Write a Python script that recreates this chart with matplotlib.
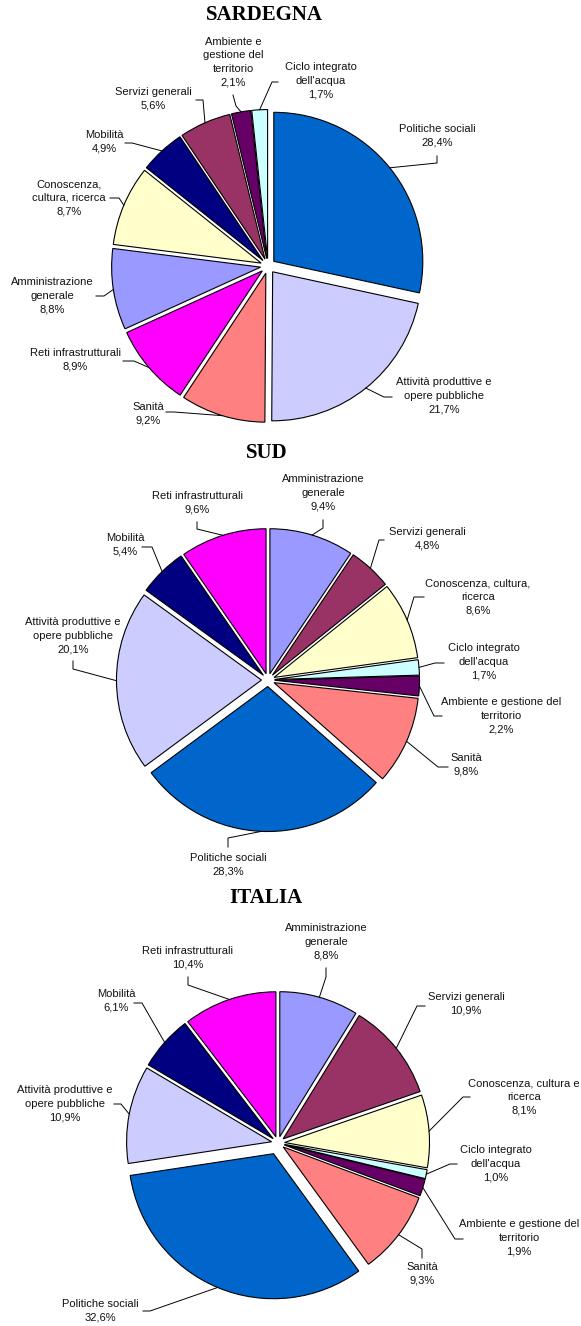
import matplotlib
matplotlib.use("Agg")
import matplotlib.pyplot as plt
import numpy as np

W, H = 581, 1326

# ── data ───────────────────────────────────────────────────────────────────────
SAR_LABELS = ["Politiche sociali", "Attività produttive e\nopere pubbliche", "Sanità",
              "Reti infrastrutturali", "Amministrazione\ngenerale", "Conoscenza,\ncultura, ricerca",
              "Mobilità", "Servizi generali", "Ambiente e\ngestione del\nterritorio",
              "Ciclo integrato\ndell'acqua"]
SAR_VALUES = [28.4, 21.7, 9.2, 8.9, 8.8, 8.7, 4.9, 5.6, 2.1, 1.7]

SUD_LABELS = ["Amministrazione\ngenerale", "Servizi generali", "Conoscenza, cultura,\nricerca",
              "Ciclo integrato\ndell'acqua", "Ambiente e gestione del\nterritorio", "Sanità",
              "Politiche sociali", "Attività produttive e\nopere pubbliche", "Mobilità",
              "Reti infrastrutturali"]
SUD_VALUES = [9.4, 4.8, 8.6, 1.7, 2.2, 9.8, 28.3, 20.1, 5.4, 9.6]

ITA_LABELS = ["Amministrazione\ngenerale", "Servizi generali", "Conoscenza, cultura e\nricerca",
              "Ciclo integrato\ndell'acqua", "Ambiente e gestione del\nterritorio", "Sanità",
              "Politiche sociali", "Attività produttive e\nopere pubbliche", "Mobilità",
              "Reti infrastrutturali"]
ITA_VALUES = [8.8, 10.9, 8.1, 1.0, 1.9, 9.3, 32.6, 10.9, 6.1, 10.4]

# ── palette (Excel classic) ────────────────────────────────────────────────────
COLORS = {
    "Politiche":       "#0066CC",
    "Attività":        "#CCCCFF",
    "Sanità":          "#FF8080",
    "Reti":            "#FF00FF",
    "Amministrazione": "#9999FF",
    "Conoscenza":      "#FFFFCC",
    "Mobilità":        "#000080",
    "Servizi":         "#993366",
    "Ambiente":        "#660066",
    "Ciclo":           "#CCFFFF",
}

# ── layout (pixel coords, y from top) ──────────────────────────────────────────
# per label: text centre, then two leader points (label side -> elbow)
SAR_LAYOUT = dict(
    title=("SARDEGNA", 264, 15), center=(268, 266), radius=149, explode=0.05, big=None,
    labels=[(437, 136, [(437, 156), (437, 163)]),
            (444, 396, [(392, 397), (384, 397)]),
            (148, 414, [(166, 412), (174, 412)]),
            (75, 360, [(123, 361), (134, 361)]),
            (52, 296, [(96, 296), (104, 296)]),
            (69, 198, [(110, 198), (119, 198)]),
            (104, 142, [(125, 143), (132, 143)]),
            (153, 99, [(196, 100), (203, 100)]),
            (233, 62, [(233, 95), (236, 106)]),
            (321, 81, [(278, 82), (272, 82)])])

SUD_LAYOUT = dict(
    title=("SUD", 267, 453), center=(268, 680), radius=145, explode=0.045, big=None,
    labels=[(323, 493, [(323, 520), (323, 528)]),
            (427, 539, [(384, 540), (379, 540)]),
            (478, 597, [(424, 597), (414, 597)]),
            (484, 662, [(444, 663), (435, 663)]),
            (501, 716, [(442, 716), (434, 716)]),
            (466, 765, [(448, 767), (438, 767)]),
            (228, 865, [(228, 847), (228, 838)]),
            (73, 636, [(73, 661), (73, 669)]),
            (125, 545, [(142, 547), (152, 547)]),
            (197, 503, [(197, 522), (197, 529)])])

ITA_LAYOUT = dict(
    title=("ITALIA", 266, 898), center=(278, 1143), radius=145, explode=0.045, big=(6, 0.08),
    labels=[(326, 942, [(326, 968), (326, 977)]),
            (466, 1004, [(425, 1006), (417, 1006)]),
            (524, 1097, [(470, 1097), (463, 1097)]),
            (496, 1164, [(457, 1164), (450, 1164)]),
            (519, 1238, [(463, 1239), (455, 1239)]),
            (422, 1274, [(422, 1258), (422, 1249)]),
            (100, 1311, [(143, 1311), (150, 1311)]),
            (65, 1104, [(114, 1104), (121, 1104)]),
            (116, 1001, [(134, 1003), (142, 1003)]),
            (188, 958, [(188, 977), (188, 985)])])

LABEL_FONT = dict(family="Liberation Sans", fontsize=8, linespacing=1.45)


def pct(v: float) -> str:
    return f"{v:.1f}%".replace(".", ",")


def draw_pie(ax, labels, values, lay) -> None:
    cx, cy = lay["center"]
    r = lay["radius"]
    # matplotlib explode is an absolute offset, so scale by radius
    explode = [lay["explode"] * r] * len(values)
    if lay["big"] is not None:
        explode[lay["big"][0]] = lay["big"][1] * r
    colors = [COLORS[l.split()[0].rstrip(",")] for l in labels]

    wedges, _ = ax.pie(values, colors=colors, startangle=90, counterclock=False,
                       explode=explode, radius=r, center=(cx, H - cy),
                       wedgeprops=dict(edgecolor="black", linewidth=0.8))

    for w, lab, v, (tx, ty, lead) in zip(wedges, labels, values, lay["labels"]):
        mid = np.deg2rad((w.theta1 + w.theta2) / 2)
        ox, oy = w.center
        ax_pt = (ox + w.r * np.cos(mid), oy + w.r * np.sin(mid))
        xs = [p[0] for p in lead] + [ax_pt[0]]
        ys = [H - p[1] for p in lead] + [ax_pt[1]]
        ax.plot(xs, ys, color="black", linewidth=0.7)
        ax.text(tx, H - ty, f"{lab}\n{pct(v)}", ha="center", va="center",
                multialignment="center", color="#111111", **LABEL_FONT)

    name, tx, ty = lay["title"]
    ax.text(tx, H - ty, name, ha="center", va="center", fontsize=15,
            fontweight="bold", family="Liberation Serif")


def main() -> None:
    fig = plt.figure(figsize=(W / 100, H / 100), dpi=100)
    fig.patch.set_facecolor("white")
    ax = fig.add_axes([0, 0, 1, 1])

    draw_pie(ax, SAR_LABELS, SAR_VALUES, SAR_LAYOUT)
    draw_pie(ax, SUD_LABELS, SUD_VALUES, SUD_LAYOUT)
    draw_pie(ax, ITA_LABELS, ITA_VALUES, ITA_LAYOUT)

    ax.set_xlim(0, W)
    ax.set_ylim(0, H)
    ax.set_aspect("equal")
    ax.axis("off")
    fig.savefig("out.png", dpi=100)


if __name__ == "__main__":
    main()
